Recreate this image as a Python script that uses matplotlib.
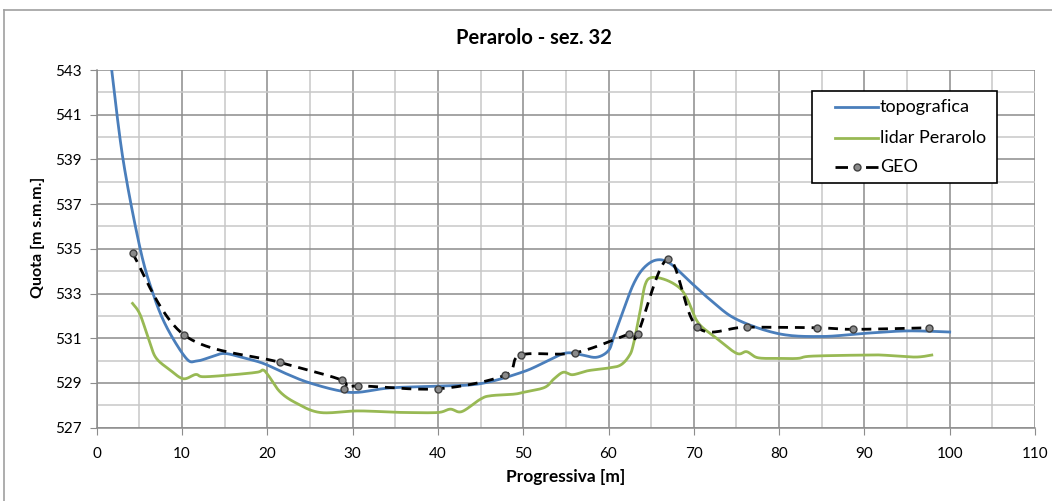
import numpy as np
import matplotlib
matplotlib.use('Agg')
import matplotlib.pyplot as plt
from matplotlib.lines import Line2D
from matplotlib.patches import Rectangle

plt.rcParams['font.family'] = ['Lato', 'DejaVu Sans']

# progressiva [m] / quota [m s.m.m.]
topo_x = [1.76, 3.1, 5.1, 6.6, 8.2, 10.5, 11.7, 13.3, 14.9, 17.0, 19.5, 22.0, 24.6,
          28.1, 30.5, 34.4, 40.0, 45.0, 50.0, 52.9, 55.0, 56.8, 58.6, 60.0, 60.6,
          61.7, 62.9, 64.1, 65.6, 67.2, 69.5, 72.0, 75.0, 80.0, 85.0, 90.0, 95.0, 100.0]
topo_y = [543.0, 538.97, 535.0, 533.0, 531.5, 530.1, 529.98, 530.15, 530.32, 530.15,
          529.88, 529.45, 529.05, 528.68, 528.58, 528.78, 528.86, 528.97, 529.5,
          530.0, 530.34, 530.26, 530.15, 530.45, 531.05, 532.2, 533.4, 534.13,
          534.5, 534.35, 533.55, 532.7, 531.85, 531.2, 531.08, 531.22, 531.33, 531.28]

lidar_x = [4.2, 5.1, 6.25, 7.0, 8.6, 10.15, 11.6, 12.5, 15.7, 18.8, 19.5, 20.1, 21.5,
           23.4, 26.2, 30.5, 34.4, 36.3, 40.0, 41.45, 42.8, 45.0, 46.2, 48.9, 50.0,
           52.5, 53.6, 54.7, 55.8, 57.6, 60.0, 61.4, 62.4, 62.9, 63.7, 64.3, 65.1,
           66.8, 68.4, 69.3, 70.5, 72.5, 75.0, 76.2, 77.5, 80.0, 82.2, 83.8, 90.0,
           92.0, 95.9, 97.9]
lidar_y = [532.56, 532.05, 530.77, 530.1, 529.58, 529.19, 529.38, 529.28, 529.36,
           529.48, 529.58, 529.35, 528.6, 528.1, 527.68, 527.75, 527.7, 527.68,
           527.68, 527.83, 527.72, 528.28, 528.43, 528.5, 528.58, 528.8, 529.18,
           529.48, 529.37, 529.55, 529.67, 529.8, 530.2, 530.7, 532.2, 533.4, 533.72,
           533.6, 533.23, 532.7, 531.7, 531.05, 530.33, 530.4, 530.13, 530.1,
           530.1, 530.2, 530.25, 530.25, 530.16, 530.25]

geo_x = [4.2, 10.27, 21.5, 28.7, 29.0, 30.67, 40.0, 47.87, 49.7, 56.07, 62.44,
         63.4, 67.0, 70.4, 76.2, 84.5, 88.7, 97.6]
geo_y = [534.8, 531.14, 529.92, 529.13, 528.71, 528.87, 528.74, 529.35, 530.25,
         530.35, 531.19, 531.19, 534.55, 531.5, 531.5, 531.47, 531.4, 531.47]

x_ticks = list(range(0, 111, 10))
y_ticks = list(range(527, 544, 2))
series_names = ['topografica', 'lidar Perarolo', 'GEO']

BLUE = '#4a7ebb'
GREEN = '#98b954'
GEO_DASH = (0, (3.5, 2.5))
W, H = 1052, 501


def smooth(xs, ys, n=20):
    # Catmull-Rom curve through the points, like a smoothed spreadsheet line
    p = np.column_stack([xs, ys]).astype(float)
    p = np.vstack([p[0], p, p[-1]])
    out = []
    t = np.linspace(0, 1, n, endpoint=False)[:, None]
    for i in range(1, len(p) - 2):
        p0, p1, p2, p3 = p[i - 1], p[i], p[i + 1], p[i + 2]
        seg = 0.5 * ((2 * p1) + (-p0 + p2) * t + (2 * p0 - 5 * p1 + 4 * p2 - p3) * t ** 2
                     + (-p0 + 3 * p1 - 3 * p2 + p3) * t ** 3)
        out.append(seg)
    out.append(p[-2][None, :])
    out = np.vstack(out)
    return out[:, 0], out[:, 1]


def fx(px):
    return px / W


def fy(py):
    return 1 - py / H


fig = plt.figure(figsize=(W / 100, H / 100), dpi=100)
ax = fig.add_axes([fx(96.7), fy(427.7), (1035 - 96.7) / W, (427.7 - 70) / H])

# chart frame
fig.add_artist(Line2D([fx(3.5), fx(3.5)], [0, fy(10)], color='#a0a0a0', lw=1.2))
fig.add_artist(Line2D([fx(3.5), 1], [fy(10), fy(10)], color='#a0a0a0', lw=1.2))

sx, sy = smooth(topo_x, topo_y)
ax.plot(sx, sy, color=BLUE, lw=2, zorder=3)
sx, sy = smooth(lidar_x, lidar_y)
ax.plot(sx, sy, color=GREEN, lw=2, zorder=3)
sx, sy = smooth(geo_x, geo_y)
ax.plot(sx, sy, color='black', lw=2, ls=GEO_DASH, zorder=4)
ax.plot(geo_x, geo_y, ls='none', marker='o', ms=5, mfc='#8a8a8a', mec='#404040',
        mew=1, zorder=5)

ax.set_xlim(0, 110)
ax.set_ylim(527, 543)
ax.set_xticks(x_ticks)
ax.set_yticks(y_ticks)
ax.set_xticks(np.arange(5, 110, 10), minor=True)
ax.set_yticks(np.arange(528, 543, 2), minor=True)
ax.grid(which='major', color='#8c8c8c', lw=1.1)
ax.grid(which='minor', color='#c8c8c8', lw=1.1)
ax.set_axisbelow(True)
ax.tick_params(which='major', direction='out', length=5, color='#8c8c8c', labelsize=11,
               pad=6)
ax.tick_params(which='minor', length=0)
ax.tick_params(axis='x', pad=9)
for s in ['top', 'right']:
    ax.spines[s].set_visible(False)
for s in ['left', 'bottom']:
    ax.spines[s].set_color('#8c8c8c')
    ax.spines[s].set_linewidth(1.1)

fig.text(fx(534), fy(38), 'Perarolo - sez. 32', ha='center', va='center',
         fontsize=14.5, fontweight='bold')
fig.text(fx(566), fy(477), 'Progressiva [m]', ha='center', va='center',
         fontsize=12.5, fontweight='bold')
fig.text(fx(38), fy(237), 'Quota [m s.m.m.]', ha='center', va='center',
         rotation=90, fontsize=11.5, fontweight='bold')

# legend box
fig.add_artist(Rectangle((fx(812), fy(183)), fx(997) - fx(812), fy(91) - fy(183),
                         transform=fig.transFigure, facecolor='white', edgecolor='black',
                         lw=1.2, zorder=10))
rows = [107, 138, 167]
fig.add_artist(Line2D([fx(835), fx(878)], [fy(rows[0])] * 2, color=BLUE, lw=2, zorder=11))
fig.add_artist(Line2D([fx(835), fx(878)], [fy(rows[1])] * 2, color=GREEN, lw=2, zorder=11))
fig.add_artist(Line2D([fx(835), fx(878)], [fy(rows[2])] * 2, color='black', lw=2,
                      ls=(0, (4.5, 6.5)), zorder=11))
fig.add_artist(Line2D([fx(856.5)], [fy(rows[2])], ls='none', marker='o', ms=5,
                      mfc='#8a8a8a', mec='#404040', mew=1, zorder=12))
for name, r in zip(series_names, rows):
    fig.text(fx(880), fy(r), name, ha='left', va='center', fontsize=13, zorder=12)

fig.savefig('out.png', dpi=100)
